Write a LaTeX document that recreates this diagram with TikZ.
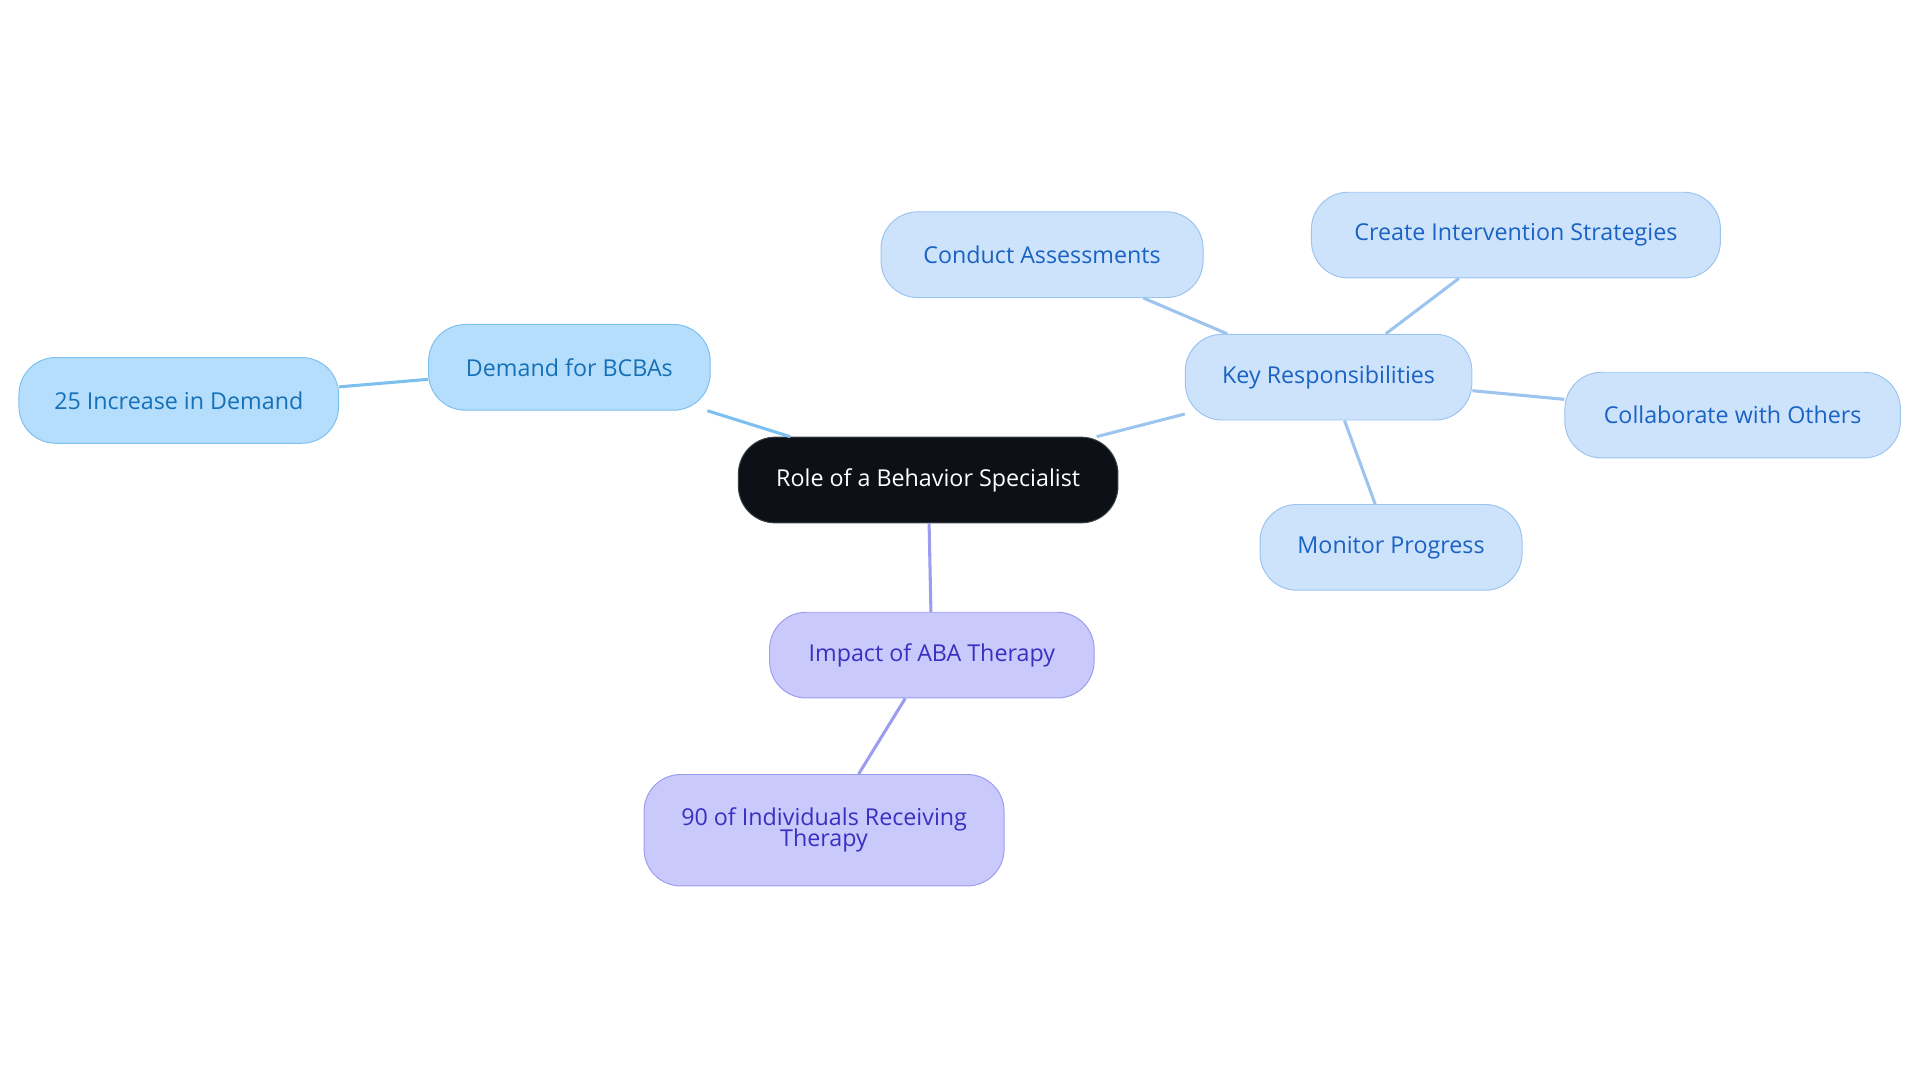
\documentclass[tikz,border=0pt]{standalone}
\usepackage{fontspec}
\setmainfont{Open Sans}
\definecolor{rootfill}{HTML}{0D1117}
\definecolor{bfill}{HTML}{B5DEFC}\definecolor{bline}{HTML}{7CC0F0}\definecolor{btext}{HTML}{1570B8}
\definecolor{kfill}{HTML}{CDE3FB}\definecolor{kline}{HTML}{9CC4EF}\definecolor{ktext}{HTML}{1A62C4}
\definecolor{pfill}{HTML}{C9C9FC}\definecolor{pline}{HTML}{9C9CF0}\definecolor{ptext}{HTML}{3A2FC0}
\tikzset{
 base/.style={rounded corners=30pt,minimum height=70pt,align=center,font=\fontsize{19}{20}\selectfont,line width=0.8pt,inner sep=0pt},
 rootn/.style={base,fill=rootfill,draw=rootfill!80,text=white},
 bn/.style={base,fill=bfill,draw=bline,text=btext},
 kn/.style={base,fill=kfill,draw=kline,text=ktext},
 pn/.style={base,fill=pfill,draw=pline,text=ptext},
 be/.style={draw=bline,line width=2.5pt},
 ke/.style={draw=kline,line width=2.5pt},
 pe/.style={draw=pline,line width=2.5pt}
}
\begin{document}
\begin{tikzpicture}[x=1pt,y=-1pt]
\useasboundingbox (0,0) rectangle (1568,884);
\node[rootn,minimum width=310pt] (root) at (758,392) {Role of a Behavior Specialist};
\node[bn,minimum width=230pt] (dem) at (465,300) {Demand for BCBAs};
\node[bn,minimum width=261pt] (inc) at (146,327) {25 Increase in Demand};
\node[kn,minimum width=234pt] (key) at (1085,308) {Key Responsibilities};
\node[kn,minimum width=263pt] (con) at (851,208) {Conduct Assessments};
\node[kn,minimum width=334pt] (cre) at (1238,192) {Create Intervention Strategies};
\node[kn,minimum width=274pt] (col) at (1415,339) {Collaborate with Others};
\node[kn,minimum width=214pt] (mon) at (1136,447) {Monitor Progress};
\node[pn,minimum width=265pt] (imp) at (761,535) {Impact of ABA Therapy};
\node[pn,minimum width=294pt,minimum height=91pt] (ninety) at (673,678) {90 of Individuals Receiving\\[-3pt]Therapy};
\begin{scope}[on background layer/.style={}]
\end{scope}
\path[be] (root) -- (dem);
\path[be] (dem) -- (inc);
\path[ke] (root) -- (key);
\path[ke] (key) -- (con);
\path[ke] (key) -- (cre);
\path[ke] (key) -- (col);
\path[ke] (key) -- (mon);
\path[pe] (root) -- (imp);
\path[pe] (imp) -- (ninety);
\end{tikzpicture}
\end{document}
